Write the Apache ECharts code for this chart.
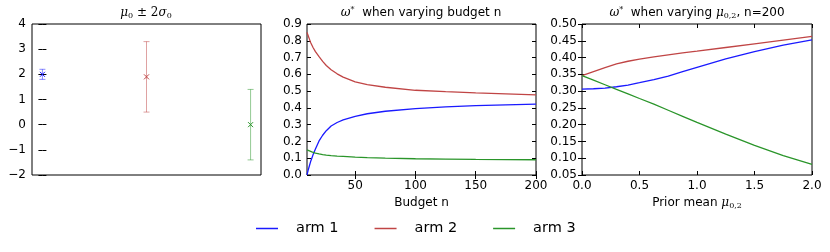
<!DOCTYPE html>
<html>
<head>
<meta charset="utf-8">
<script src="https://cdn.jsdelivr.net/npm/echarts@6/dist/echarts.min.js"></script>
<style>html,body{margin:0;padding:0;background:#fff}#c{width:830px;height:252px}</style>
</head>
<body>
<div id="c"></div>
<script>
// ---------- data ----------
const armNames = ['arm 1', 'arm 2', 'arm 3'];
const armColors = ['#1a1aff', '#c04545', '#2a952a'];

// panel 1: prior mean +- 2 sigma
const priorX = [0, 1, 2];
const priorMean = [2.0, 1.9, 0.0];
const prior2Sigma = [0.2, 1.4, 1.4];

// panel 2: omega* vs budget n
const budgetN = [10, 11, 12, 13, 14, 15, 17, 20, 23, 26, 30, 35, 40, 50, 60, 75, 100, 125, 150, 175, 200];
const budgetArm1 = [0.0, 0.03, 0.055, 0.08, 0.10, 0.12, 0.155, 0.203, 0.237, 0.264, 0.292, 0.313, 0.328, 0.350, 0.365, 0.380, 0.396, 0.406, 0.413, 0.418, 0.423];
const budgetArm2 = [0.85, 0.83, 0.81, 0.79, 0.775, 0.76, 0.735, 0.705, 0.677, 0.653, 0.627, 0.603, 0.583, 0.555, 0.539, 0.523, 0.505, 0.497, 0.490, 0.484, 0.478];
const budgetArm3 = [0.15, 0.147, 0.144, 0.141, 0.138, 0.136, 0.131, 0.126, 0.122, 0.119, 0.116, 0.113, 0.111, 0.107, 0.104, 0.101, 0.097, 0.095, 0.093, 0.092, 0.091];

// panel 3: omega* vs prior mean mu_{0,2}, n=200
const priorMu = [0, 0.1, 0.2, 0.3, 0.4, 0.5, 0.625, 0.75, 0.875, 1.0, 1.25, 1.5, 1.75, 2.0];
const muArm1 = [0.306, 0.307, 0.309, 0.313, 0.318, 0.325, 0.334, 0.345, 0.358, 0.371, 0.396, 0.418, 0.437, 0.453];
const muArm2 = [0.346, 0.358, 0.370, 0.381, 0.389, 0.395, 0.402, 0.408, 0.414, 0.419, 0.430, 0.441, 0.452, 0.463];
const muArm3 = [0.346, 0.333, 0.319, 0.305, 0.292, 0.278, 0.261, 0.243, 0.225, 0.207, 0.172, 0.138, 0.108, 0.082];

// tick labels
const p1YTicks = {min: -2, max: 4, interval: 1};
const p2XTicks = [50, 100, 150, 200];
const p2YTicks = {min: 0, max: 0.9, interval: 0.1};
const p3XTicks = {min: 0, max: 2, interval: 0.5};
const p3YTicks = {min: 0.05, max: 0.5, interval: 0.05};

// ---------- chart ----------
const chart = echarts.init(document.getElementById('c'), null, {renderer: 'canvas'});
const FONT = 'DejaVu Sans';
const tickStyle = {show: true, inside: true, length: 4, lineStyle: {color: '#000', width: 1}};
const labelStyle = {color: '#000', fontFamily: FONT, fontSize: 12};
const minus = v => String(v).replace('-', '\u2212');

const grids = [
  {left: 32, top: 24, width: 229, height: 151},
  {left: 307, top: 24, width: 229, height: 151},
  {left: 582, top: 24, width: 230, height: 151}
].map(g => Object.assign({show: true, borderColor: '#000', borderWidth: 1, backgroundColor: '#fff', containLabel: false}, g));

function mirror(base, pos) {
  return Object.assign({}, base, {position: pos, axisLabel: {show: false}, name: ''});
}

const x1 = {type: 'value', gridIndex: 0, min: -0.1, max: 2.1, axisLine: {show: false}, axisTick: {show: false}, axisLabel: {show: false}, splitLine: {show: false}};
const y1 = {type: 'value', gridIndex: 0, min: p1YTicks.min, max: p1YTicks.max, interval: p1YTicks.interval, axisLine: {show: false}, axisTick: tickStyle, splitLine: {show: false},
  axisLabel: Object.assign({margin: 6, formatter: v => minus(v)}, labelStyle)};
const x2 = {type: 'value', gridIndex: 1, min: 10, max: 200, axisLine: {show: false}, splitLine: {show: false},
  axisTick: Object.assign({customValues: p2XTicks}, tickStyle),
  axisLabel: Object.assign({margin: 5, customValues: p2XTicks}, labelStyle),
  name: 'Budget n', nameLocation: 'middle', nameGap: 21, nameTextStyle: {color: '#000', fontFamily: FONT, fontSize: 12}};
const y2 = {type: 'value', gridIndex: 1, min: p2YTicks.min, max: p2YTicks.max, interval: p2YTicks.interval, axisLine: {show: false}, axisTick: tickStyle, splitLine: {show: false},
  axisLabel: Object.assign({margin: 5, formatter: v => v.toFixed(1)}, labelStyle)};
const x3 = {type: 'value', gridIndex: 2, min: p3XTicks.min, max: p3XTicks.max, interval: p3XTicks.interval, axisLine: {show: false}, axisTick: tickStyle, splitLine: {show: false},
  axisLabel: Object.assign({margin: 5, formatter: v => v.toFixed(1)}, labelStyle),
  name: '{t|Prior mean }{m|μ}{s|0,2}', nameLocation: 'middle', nameGap: 21,
  nameTextStyle: {color: '#000', fontFamily: FONT, fontSize: 12, rich: {
    t: {fontFamily: FONT, fontSize: 12, color: '#000'},
    m: {fontFamily: 'DejaVu Serif', fontStyle: 'italic', fontSize: 12, color: '#000'},
    s: {fontFamily: 'DejaVu Serif', fontSize: 8, color: '#000', verticalAlign: 'bottom', padding: [6, 0, 0, 0]}
  }}};
const y3 = {type: 'value', gridIndex: 2, min: p3YTicks.min, max: p3YTicks.max, interval: p3YTicks.interval, axisLine: {show: false}, axisTick: tickStyle, splitLine: {show: false},
  axisLabel: Object.assign({margin: 5, formatter: v => v.toFixed(2)}, labelStyle)};

const xAxes = [x1, x2, x3, mirror(x1, 'top'), mirror(x2, 'top'), mirror(x3, 'top')];
const yAxes = [y1, y2, y3, mirror(y1, 'right'), mirror(y2, 'right'), mirror(y3, 'right')];

const titleRich = {
  t: {fontFamily: FONT, fontSize: 12, color: '#000'},
  m: {fontFamily: 'DejaVu Serif', fontStyle: 'italic', fontSize: 12, color: '#000'},
  n: {fontFamily: 'DejaVu Serif', fontSize: 12, color: '#000'},
  s: {fontFamily: 'DejaVu Serif', fontSize: 8, color: '#000', verticalAlign: 'bottom', padding: [6, 0, 0, 0]},
  p: {fontFamily: 'DejaVu Serif', fontSize: 8, color: '#000', verticalAlign: 'top', padding: [0, 0, 5, 0]}
};
function mkTitle(text, cx) {
  return {text: text, left: cx, top: 6, textAlign: 'center', padding: 0,
    textStyle: {fontFamily: FONT, fontSize: 12, fontWeight: 'normal', color: '#000', rich: titleRich}};
}
const titles = [
  mkTitle('{m|μ}{s|0}{n| ± 2}{m|σ}{s|0}', 146),
  mkTitle('{m|ω}{p|*}{t|  when varying budget n}', 421),
  mkTitle('{m|ω}{p|*}{t|  when varying }{m|μ}{s|0,2}{t|, n=200}', 697)
];

function zip(xs, ys) { return xs.map((x, i) => [x, ys[i]]); }

function lineSeries(name, idx, xs, ys, gi) {
  return {type: 'line', name: name, xAxisIndex: gi, yAxisIndex: gi, data: zip(xs, ys),
    showSymbol: false, symbol: 'none', smooth: false, clip: true,
    lineStyle: {color: armColors[idx], width: 1.3}, itemStyle: {color: armColors[idx]}, animation: false};
}

const errData = priorX.map((x, i) => [x, priorMean[i], prior2Sigma[i]]);
const errSeries = {
  type: 'custom', xAxisIndex: 0, yAxisIndex: 0, data: errData, animation: false, silent: true,
  renderItem: function (params, api) {
    const x = api.value(0), m = api.value(1), e = api.value(2);
    const c = armColors[params.dataIndex];
    const top = api.coord([x, m + e]), bot = api.coord([x, m - e]), mid = api.coord([x, m]);
    const cw = 3, mk = 2.5;
    const faint = {stroke: c, opacity: 0.5, lineWidth: 1};
    const solid = {stroke: c, lineWidth: 1};
    return {type: 'group', children: [
      {type: 'line', shape: {x1: top[0], y1: top[1], x2: bot[0], y2: bot[1]}, style: faint},
      {type: 'line', shape: {x1: top[0] - cw, y1: top[1], x2: top[0] + cw, y2: top[1]}, style: faint},
      {type: 'line', shape: {x1: bot[0] - cw, y1: bot[1], x2: bot[0] + cw, y2: bot[1]}, style: faint},
      {type: 'line', shape: {x1: mid[0] - mk, y1: mid[1] - mk, x2: mid[0] + mk, y2: mid[1] + mk}, style: solid},
      {type: 'line', shape: {x1: mid[0] - mk, y1: mid[1] + mk, x2: mid[0] + mk, y2: mid[1] - mk}, style: solid}
    ]};
  }
};

const series = [
  errSeries,
  lineSeries(armNames[0], 0, budgetN, budgetArm1, 1),
  lineSeries(armNames[1], 1, budgetN, budgetArm2, 1),
  lineSeries(armNames[2], 2, budgetN, budgetArm3, 1),
  lineSeries(armNames[0], 0, priorMu, muArm1, 2),
  lineSeries(armNames[1], 1, priorMu, muArm2, 2),
  lineSeries(armNames[2], 2, priorMu, muArm3, 2)
];

chart.setOption({
  backgroundColor: '#fff',
  animation: false,
  title: titles,
  grid: grids,
  xAxis: xAxes.map((a, i) => Object.assign({}, a, {gridIndex: i % 3})),
  yAxis: yAxes.map((a, i) => Object.assign({}, a, {gridIndex: i % 3})),
  legend: {
    data: armNames, left: 256, top: 221, itemGap: 36, itemWidth: 22, itemHeight: 1.5, icon: 'rect',
    padding: 0, selectedMode: false,
    textStyle: {fontFamily: FONT, fontSize: 14.5, color: '#000', padding: [0, 0, 0, 13]}
  },
  series: series
});
</script>
</body>
</html>
